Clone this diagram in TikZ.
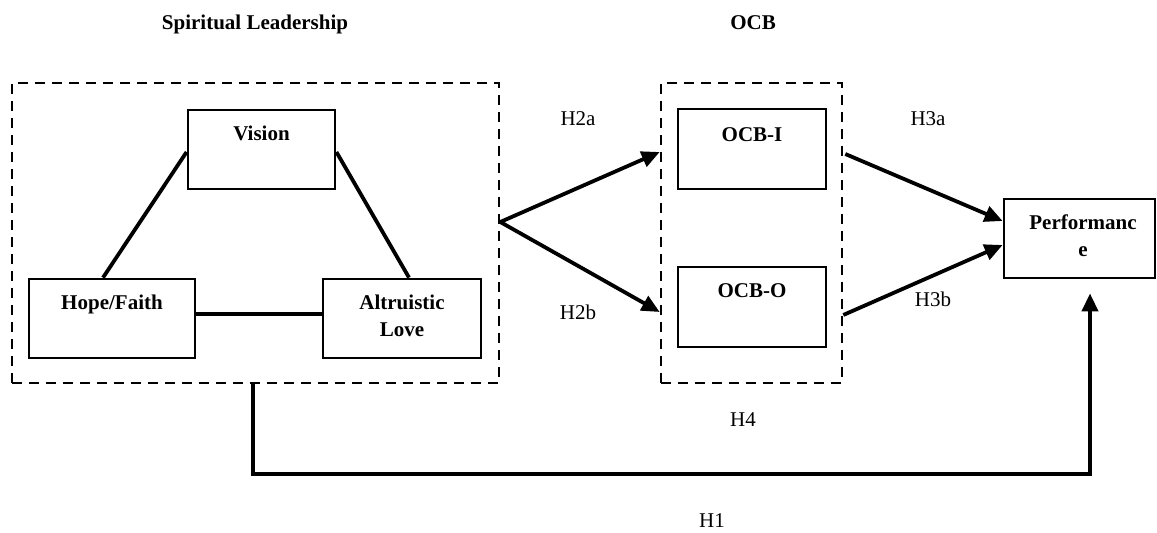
\documentclass[tikz,border=0pt]{standalone}
\usepackage{fontspec}
\setmainfont{Liberation Serif}
\usetikzlibrary{arrows.meta}
\begin{document}
\begin{tikzpicture}[x=0.5pt,y=-0.5pt,
  font=\fontsize{10.5pt}{13.5pt}\selectfont,
  box/.style={draw, line width=1.4pt, inner sep=0pt, minimum height=39.5pt},
  dbox/.style={draw, line width=1.3pt, dash pattern=on 5pt off 3.5pt, inner sep=0pt, minimum height=150pt},
  conn/.style={line width=1.9pt},
  arr/.style={conn, -{Triangle[length=9pt,width=8pt]}},
  bt/.style={font=\fontsize{10.5pt}{13.5pt}\selectfont\bfseries, inner sep=0pt, anchor=base, align=center},
  ht/.style={inner sep=0pt, anchor=base}]
\useasboundingbox (0,0) rectangle (1157,533);
% dashed groups
\node[dbox, minimum width=243.5pt] (sl) at (255.5,233) {};
\node[dbox, minimum width=90.5pt] (ocb) at (751.5,233) {};
% boxes
\node[box, minimum width=73.5pt] (vision) at (261.5,149.5) {};
\node[box, minimum width=83pt] (hope) at (112,318.5) {};
\node[box, minimum width=79pt] (altru) at (402,318.5) {};
\node[box, minimum width=74pt, minimum height=40pt] (ocbi) at (752,149) {};
\node[box, minimum width=74pt, minimum height=40pt] (ocbo) at (752,307) {};
\node[box, minimum width=75.5pt] (perf) at (1079.5,238.5) {};
% box texts (base = baseline of last line)
\node[bt] (visiont) at (261.5,141) {Vision};
\node[bt] (hopet) at (112,310) {Hope/Faith};
\node[bt] (altrut) at (402,337) {Altruistic\\Love};
\node[bt] (ocbit) at (752,142) {OCB-I};
\node[bt] (ocbot) at (752,298) {OCB-O};
\node[bt] (perft) at (1083,257) {Performanc\\e};
% titles
\node[bt] (slt) at (255,30) {Spiritual Leadership};
\node[bt] (ocbt) at (753,30) {OCB};
% triangle links
\draw[conn] ([yshift=-1.25pt]vision.west) -- ([xshift=-4.5pt]hope.north);
\draw[conn] ([yshift=-1.25pt]vision.east) -- ([xshift=3.5pt]altru.north);
\draw[conn] ([yshift=2.25pt]hope.east) -- ([yshift=2.25pt]altru.west);
% H2
\coordinate (split) at ([yshift=5.5pt]sl.east);
\draw[arr] (split) -- ([yshift=40.5pt]ocb.west);
\draw[arr] (split) -- ([yshift=-39.5pt]ocb.west);
% H3
\draw[arr] ([xshift=1pt,yshift=39.5pt]ocb.east) -- ([yshift=8.75pt]perf.west);
\draw[arr] ([yshift=-41pt]ocb.east) -- ([yshift=-3.25pt]perf.west);
% H1
\coordinate (h1tip) at ([xshift=5.25pt,yshift=-7pt]perf.south);
\draw[arr] ([xshift=-1.25pt]sl.south) -- ++(0,90) -| (h1tip);
% labels
\node[ht] (h2a) at (578,126) {H2a};
\node[ht] (h2b) at (578,320) {H2b};
\node[ht] (h3a) at (928,126) {H3a};
\node[ht] (h3b) at (933,307) {H3b};
\node[ht] (h4) at (743,427) {H4};
\node[ht] (h1) at (712,528) {H1};
\end{tikzpicture}
\end{document}
